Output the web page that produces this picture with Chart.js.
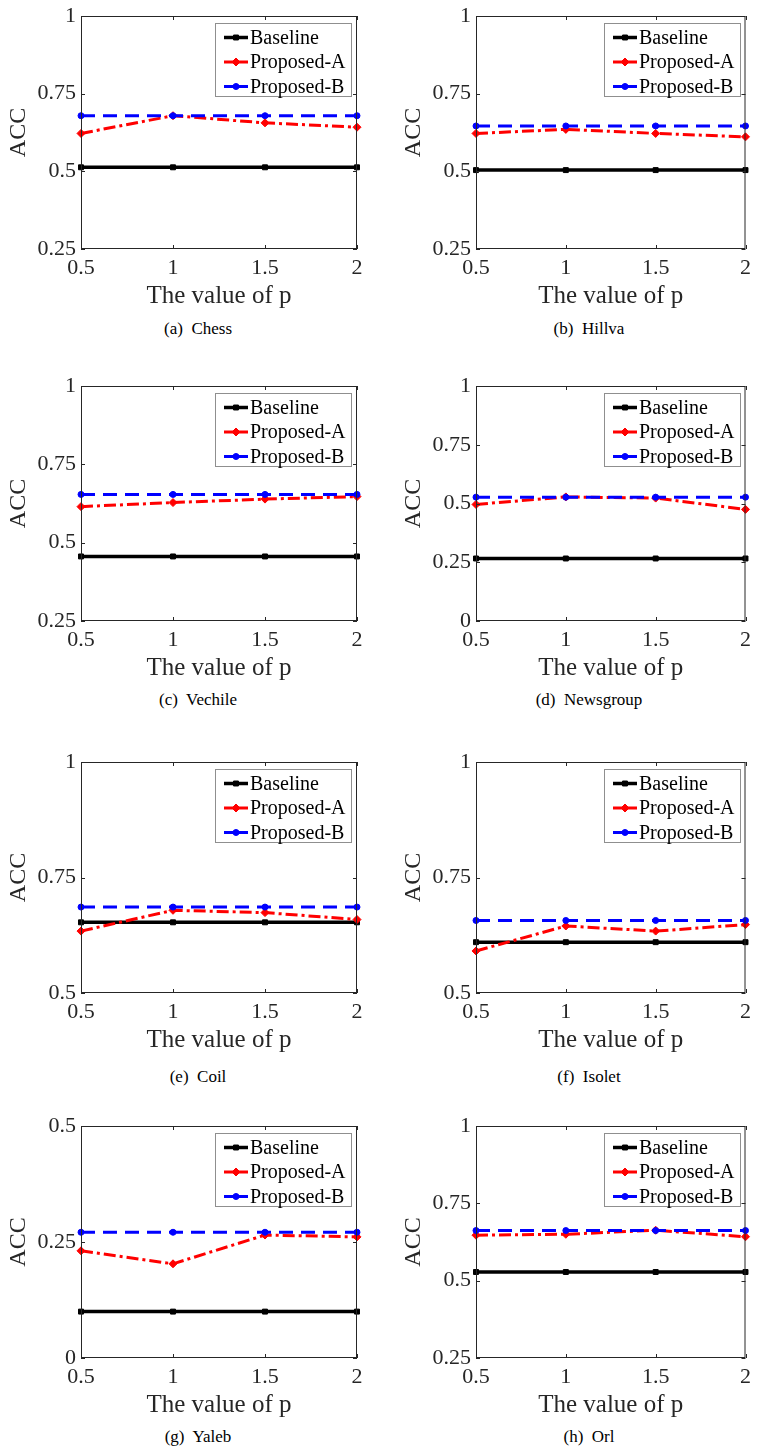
<!DOCTYPE html>
<html>
<head>
<meta charset="utf-8">
<script src="https://cdn.jsdelivr.net/npm/chart.js@4.4.1/dist/chart.umd.min.js"></script>
<style>
  html, body { margin: 0; padding: 0; background: #fff; }
  #page { position: relative; width: 757px; height: 1447px; overflow: hidden; font-family: "Liberation Serif", serif; }
  #page canvas { position: absolute; }
  .caption {
    position: absolute;
    font-family: "Liberation Serif", serif;
    font-size: 17px;
    color: #000;
    white-space: pre;
    transform: translate(-50%, -50%);
  }
</style>
</head>
<body>
<div id="page"></div>
<script>
// x axis: value of p
const pValues = [0.5, 1, 1.5, 2];

const panelLetters = ["a", "b", "c", "d", "e", "f", "g", "h"];
const panelNames = ["Chess", "Hillva", "Vechile", "Newsgroup", "Coil", "Isolet", "Yaleb", "Orl"];
const seriesNames = ["Baseline", "Proposed-A", "Proposed-B"];

// ACC per panel, one row per dataset
const baselineAcc = [
  [0.513, 0.513, 0.513, 0.513],
  [0.504, 0.504, 0.504, 0.504],
  [0.456, 0.456, 0.456, 0.456],
  [0.266, 0.266, 0.266, 0.266],
  [0.653, 0.653, 0.653, 0.653],
  [0.610, 0.610, 0.610, 0.610],
  [0.100, 0.100, 0.100, 0.100],
  [0.528, 0.528, 0.528, 0.528]
];
const proposedAAcc = [
  [0.622, 0.679, 0.656, 0.642],
  [0.622, 0.635, 0.622, 0.611],
  [0.615, 0.628, 0.639, 0.647],
  [0.496, 0.528, 0.523, 0.475],
  [0.634, 0.679, 0.674, 0.659],
  [0.591, 0.645, 0.634, 0.648],
  [0.231, 0.203, 0.265, 0.261],
  [0.647, 0.650, 0.663, 0.642]
];
const proposedBAcc = [
  [0.679, 0.679, 0.679, 0.679],
  [0.646, 0.646, 0.646, 0.646],
  [0.654, 0.654, 0.654, 0.654],
  [0.527, 0.527, 0.527, 0.527],
  [0.686, 0.686, 0.686, 0.686],
  [0.657, 0.657, 0.657, 0.657],
  [0.271, 0.271, 0.271, 0.271],
  [0.662, 0.662, 0.662, 0.662]
];

const yMins = [0.25, 0.25, 0.25, 0, 0.5, 0.5, 0, 0.25];
const yMaxs = [1, 1, 1, 1, 1, 1, 0.5, 1];
const yStep = 0.25;

// grid placement on the page
const colLeft = [0, 395];
const colWidth = [378, 362];
const plotLeft = [81, 476];
const plotRight = [357, 751];
const rowTop = [16, 386, 762, 1126];
const rowBottom = [249, 621, 993, 1358];
const captionX = [198, 589];
const captionY = [329, 700, 1077, 1437];

const FONT = "'Liberation Serif', serif";
const INK = "#262626";

const seriesStyles = [
  { color: "#000000", dash: [], point: "rect", radius: 3.5, width: 3.5 },
  { color: "#ff0000", dash: [12, 4, 3, 4], point: "rectRot", radius: 4, width: 3 },
  { color: "#0000ff", dash: [14, 8], point: "circle", radius: 3, width: 3 }
];

const fmt = (v) => String(Math.round(v * 100) / 100);

function drawMarker(ctx, style, x, y, r, color) {
  ctx.save();
  ctx.setLineDash([]);
  ctx.fillStyle = color;
  ctx.strokeStyle = color;
  ctx.lineWidth = 1;
  ctx.beginPath();
  if (style === "rect") {
    const s = r * Math.SQRT1_2;
    ctx.rect(x - s, y - s, 2 * s, 2 * s);
  } else if (style === "rectRot") {
    ctx.moveTo(x, y - r);
    ctx.lineTo(x + r, y);
    ctx.lineTo(x, y + r);
    ctx.lineTo(x - r, y);
    ctx.closePath();
  } else {
    ctx.arc(x, y, r, 0, Math.PI * 2);
  }
  ctx.fill();
  ctx.stroke();
  ctx.restore();
}

// box around the plot plus small inward ticks on all four sides
const axesBox = {
  id: "axesBox",
  afterDatasetsDraw(chart) {
    const { ctx, chartArea: a } = chart;
    const xs = chart.scales.x, ys = chart.scales.y;
    const tl = 4;
    ctx.save();
    ctx.strokeStyle = INK;
    ctx.lineWidth = 1;
    ctx.setLineDash([]);
    ctx.strokeRect(a.left + 0.5, a.top + 0.5, a.right - a.left - 1, a.bottom - a.top - 1);
    ctx.beginPath();
    xs.ticks.forEach((t) => {
      const px = Math.round(xs.getPixelForValue(t.value)) + 0.5;
      ctx.moveTo(px, a.bottom);
      ctx.lineTo(px, a.bottom - tl);
      ctx.moveTo(px, a.top);
      ctx.lineTo(px, a.top + tl);
    });
    ys.ticks.forEach((t) => {
      const py = Math.round(ys.getPixelForValue(t.value)) + 0.5;
      ctx.moveTo(a.left, py);
      ctx.lineTo(a.left + tl, py);
      ctx.moveTo(a.right, py);
      ctx.lineTo(a.right - tl, py);
    });
    ctx.stroke();
    ctx.restore();
  }
};

// MATLAB-like legend: boxed, line sample with marker
const boxLegend = {
  id: "boxLegend",
  afterDraw(chart) {
    const { ctx, chartArea: a } = chart;
    const w = 136, h = 73;
    const x0 = Math.round(a.right - 6 - w), y0 = Math.round(a.top + 7);
    ctx.save();
    ctx.fillStyle = "#fff";
    ctx.fillRect(x0, y0, w, h);
    ctx.strokeStyle = "#8f8f8f";
    ctx.lineWidth = 1;
    ctx.strokeRect(x0 + 0.5, y0 + 0.5, w, h);
    chart.data.datasets.forEach((ds, i) => {
      const st = seriesStyles[i];
      const cy = y0 + 14.5 + i * 24.5;
      ctx.strokeStyle = st.color;
      ctx.lineWidth = st.width;
      ctx.setLineDash([]);
      ctx.beginPath();
      ctx.moveTo(x0 + 9, cy);
      ctx.lineTo(x0 + 33, cy);
      ctx.stroke();
      drawMarker(ctx, st.point, x0 + 21, cy, st.radius, st.color);
      ctx.fillStyle = "#000";
      ctx.font = "20px " + FONT;
      ctx.textBaseline = "middle";
      ctx.textAlign = "left";
      ctx.fillText(ds.label, x0 + 35, cy + 1);
    });
    ctx.restore();
  }
};

const page = document.getElementById("page");
const seriesValues = [baselineAcc, proposedAAcc, proposedBAcc];

function buildPanels() {
  panelNames.forEach((name, i) => {
    const col = i % 2;
    const row = Math.floor(i / 2);
    const plotH = rowBottom[row] - rowTop[row];
    const padTop = 20;
    const xAxisH = 62;

    const canvas = document.createElement("canvas");
    canvas.width = colWidth[col];
    canvas.height = padTop + plotH + xAxisH;
    canvas.style.left = colLeft[col] + "px";
    canvas.style.top = (rowTop[row] - padTop) + "px";
    page.appendChild(canvas);

    const caption = document.createElement("div");
    caption.className = "caption";
    caption.textContent = "(" + panelLetters[i] + ")  " + name;
    caption.style.left = captionX[col] + "px";
    caption.style.top = captionY[row] + "px";
    page.appendChild(caption);

    const datasets = seriesNames.map((label, s) => {
      const st = seriesStyles[s];
      return {
        label: label,
        data: pValues.map((p, j) => ({ x: p, y: seriesValues[s][i][j] })),
        borderColor: st.color,
        backgroundColor: st.color,
        borderWidth: st.width,
        borderDash: st.dash,
        pointStyle: st.point,
        pointRadius: st.radius,
        pointBorderWidth: 1,
        pointBackgroundColor: st.color,
        pointBorderColor: st.color,
        tension: 0,
        clip: false,
        order: 2 - s
      };
    });

    new Chart(canvas, {
      type: "line",
      data: { datasets: datasets },
      options: {
        responsive: false,
        animation: false,
        devicePixelRatio: 1,
        layout: {
          padding: {
            top: padTop,
            right: colLeft[col] + colWidth[col] - plotRight[col],
            bottom: 0,
            left: 0
          }
        },
        plugins: { legend: { display: false }, tooltip: { enabled: false } },
        scales: {
          x: {
            type: "linear",
            min: 0.5,
            max: 2,
            grid: { display: false, drawTicks: false, tickLength: 0 },
            border: { display: false },
            ticks: {
              stepSize: 0.5,
              padding: 6,
              color: INK,
              font: { family: FONT, size: 22 },
              callback: fmt
            },
            title: {
              display: true,
              text: "The value of p",
              color: INK,
              font: { family: FONT, size: 25 },
              padding: 0
            },
            afterFit(scale) { scale.height = xAxisH; }
          },
          y: {
            min: yMins[i],
            max: yMaxs[i],
            grid: { display: false, drawTicks: false, tickLength: 0 },
            border: { display: false },
            ticks: {
              stepSize: yStep,
              padding: 5,
              color: INK,
              font: { family: FONT, size: 22 },
              callback: fmt
            },
            title: {
              display: true,
              text: "ACC",
              color: INK,
              font: { family: FONT, size: 24 },
              padding: { top: 4, bottom: 0 }
            },
            afterFit(scale) { scale.width = plotLeft[col] - colLeft[col]; }
          }
        }
      },
      plugins: [axesBox, boxLegend]
    });
  });
}

// make sure the serif face is loaded before the canvases draw text
const fontLoads = document.fonts
  ? Promise.all([
      document.fonts.load("20px 'Liberation Serif'"),
      document.fonts.load("22px 'Liberation Serif'"),
      document.fonts.load("25px 'Liberation Serif'")
    ])
  : Promise.resolve();
fontLoads.then(buildPanels, buildPanels);
</script>
</body>
</html>
